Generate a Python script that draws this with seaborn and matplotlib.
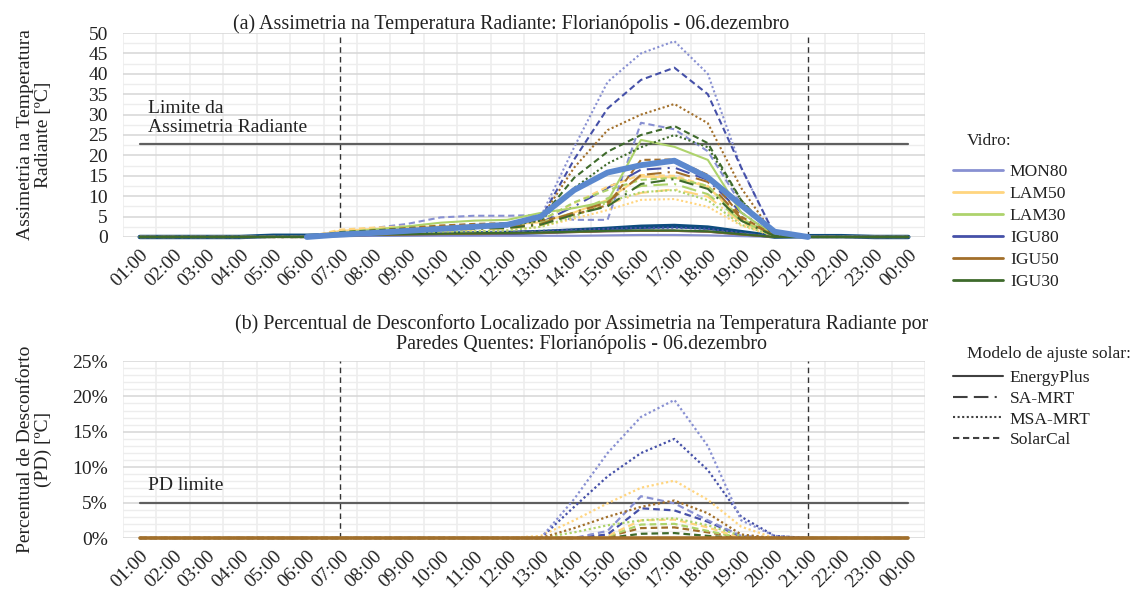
import matplotlib.pyplot as plt
import numpy as np
import seaborn as sns
from matplotlib.lines import Line2D
from matplotlib.ticker import FixedLocator, MultipleLocator, PercentFormatter

# ──────────────────────────────────────────────
# Dados
# ──────────────────────────────────────────────
HORAS = ["01:00", "02:00", "03:00", "04:00", "05:00", "06:00", "07:00", "08:00",
         "09:00", "10:00", "11:00", "12:00", "13:00", "14:00", "15:00", "16:00",
         "17:00", "18:00", "19:00", "20:00", "21:00", "22:00", "23:00", "00:00"]

# (a) Assimetria na temperatura radiante [ºC]
MON80_EP = [0, 0, 0, 0, 0, 0, 0.2, 0.3, 0.3, 0.3, 0.3, 0.3, 0.3, 0.3, 0.4, 0.5, 0.5, 0.4, 0.2, 0, 0, 0, 0, 0]
MON80_SA = [0, 0, 0, 0, 0, 0, 0.5, 0.8, 1.0, 1.0, 1.1, 1.1, 1.2, 1.3, 1.5, 1.6, 1.6, 1.4, 0.8, 0, 0, 0, 0, 0]
MON80_MSA = [0, 0, 0, 0, 0, 0, 0.8, 1.2, 1.6, 2.0, 2.4, 2.8, 5.0, 22, 38, 45, 48, 40, 17, 0.5, 0, 0, 0, 0]
MON80_SC = [0, 0, 0, 0, 0, 0, 1.5, 2.2, 3.2, 4.8, 5.2, 5.2, 5.4, 4.2, 4.2, 28, 26.4, 21, 8, 0.3, 0, 0, 0, 0]

IGU80_EP = [0, 0, 0, 0, 0, 0, 0.3, 0.5, 0.6, 0.7, 0.7, 0.8, 1.0, 1.2, 1.4, 1.5, 1.5, 1.3, 0.6, 0, 0, 0, 0, 0]
IGU80_SA = [0, 0, 0, 0, 0, 0, 0.8, 1.2, 1.6, 2.0, 2.3, 2.5, 3.5, 7.5, 12, 16.5, 17, 14, 6, 0.3, 0, 0, 0, 0]
IGU80_MSA = [0, 0, 0, 0, 0, 0, 0.6, 0.9, 1.0, 1.1, 1.2, 1.3, 1.5, 1.8, 2.0, 2.2, 2.3, 2.0, 1.0, 0, 0, 0, 0, 0]
IGU80_SC = [0, 0, 0, 0, 0, 0, 1.0, 1.5, 2.0, 2.5, 2.8, 3.2, 4.5, 19, 31.5, 38.5, 41.5, 35, 17, 0.5, 0, 0, 0, 0]

LAM50_EP = [0, 0, 0, 0, 0, 0, 1.5, 2.0, 2.3, 2.6, 2.8, 3.0, 3.6, 6.0, 9.1, 14.8, 14.6, 12.3, 4.5, 0.3, 0, 0, 0, 0]
LAM50_SA = [0, 0, 0, 0, 0, 0, 0.8, 1.0, 1.3, 1.5, 1.8, 2.0, 2.8, 5.5, 8.0, 10.8, 11.7, 9.9, 3.5, 0.2, 0, 0, 0, 0]
LAM50_MSA = [0, 0, 0, 0, 0, 0, 0.5, 0.8, 1.0, 1.2, 1.4, 1.6, 2.5, 4.5, 6.6, 9.1, 9.3, 7.4, 2.8, 0.2, 0, 0, 0, 0]
LAM50_SC = [0, 0, 0, 0, 0, 0, 1.8, 2.3, 2.6, 2.8, 3.0, 3.2, 4.0, 8.3, 12.3, 15.2, 15.0, 12.5, 4.0, 0.3, 0, 0, 0, 0]

LAM30_EP = [0, 0, 0, 0, 0, 0, 1.0, 1.8, 2.6, 3.5, 4.0, 4.2, 5.9, 7.1, 8.7, 23.8, 22.1, 18.9, 6.0, 0.3, 0, 0, 0, 0]
LAM30_SA = [0, 0, 0, 0, 0, 0, 0.8, 1.2, 1.6, 2.0, 2.4, 2.6, 3.5, 6.0, 9.5, 12.5, 13.0, 10.5, 4.0, 0.2, 0, 0, 0, 0]
LAM30_MSA = [0, 0, 0, 0, 0, 0, 0.5, 0.8, 1.0, 1.2, 1.4, 1.6, 2.5, 5.0, 8.5, 11.0, 11.5, 9.0, 3.0, 0.2, 0, 0, 0, 0]
LAM30_SC = [0, 0, 0, 0, 0, 0, 1.2, 1.8, 2.2, 2.6, 2.9, 3.1, 4.0, 8.5, 11.5, 14.0, 14.5, 12.5, 4.5, 0.3, 0, 0, 0, 0]

IGU50_EP = [0, 0, 0, 0, 0, 0, 0.3, 0.5, 0.6, 0.7, 0.8, 0.9, 1.0, 1.2, 1.4, 1.5, 1.5, 1.3, 0.6, 0, 0, 0, 0, 0]
IGU50_SA = [0, 0, 0, 0, 0, 0, 0.8, 1.2, 1.6, 2.0, 2.2, 2.4, 3.2, 6.0, 8.5, 15.2, 16.0, 13.5, 4.5, 0.3, 0, 0, 0, 0]
IGU50_MSA = [0, 0, 0, 0, 0, 0, 0.6, 1.0, 1.4, 1.8, 2.2, 2.6, 4.5, 17, 26.2, 30, 32.6, 27.9, 12, 0.3, 0, 0, 0, 0]
IGU50_SC = [0, 0, 0, 0, 0, 0, 1.0, 1.6, 2.2, 2.8, 3.2, 3.4, 4.0, 5.5, 7.8, 18.9, 19.0, 15.2, 5.0, 0.3, 0, 0, 0, 0]

IGU30_EP = [0, 0, 0, 0, 0, 0, 0.4, 0.6, 0.7, 0.8, 0.9, 1.0, 1.1, 1.3, 1.5, 1.6, 1.6, 1.4, 0.7, 0, 0, 0, 0, 0]
IGU30_SA = [0, 0, 0, 0, 0, 0, 0.8, 1.2, 1.5, 1.8, 2.0, 2.2, 3.0, 5.5, 7.5, 13.0, 14.2, 11.8, 4.0, 0.2, 0, 0, 0, 0]
IGU30_MSA = [0, 0, 0, 0, 0, 0, 0.8, 1.2, 1.6, 2.0, 2.4, 2.8, 4.0, 12, 18, 22, 25, 22, 9, 0.3, 0, 0, 0, 0]
IGU30_SC = [0, 0, 0, 0, 0, 0, 1.2, 1.6, 2.0, 2.4, 2.7, 3.0, 4.5, 14.5, 20.9, 25, 27.2, 23, 9, 0.3, 0, 0, 0, 0]

# Linhas espessas (sem entrada na legenda); None = sem valor
DESTAQUE_AZUL = [None, None, None, None, None, 0, 0.6, 1.0, 1.5, 2.0, 2.5, 3.0, 5.0, 11.5, 15.8,
                 17.6, 18.7, 14.6, 7.8, 1.3, 0, None, None, None]
DESTAQUE_MARINHO = [0, 0, 0, 0, 0.3, 0.3, 0.5, 0.6, 0.7, 0.8, 0.9, 1.0, 1.2, 1.6, 2.0, 2.5, 2.7,
                    2.3, 1.2, 0.1, 0.2, 0.2, 0, 0]

LIMITE_ASSIMETRIA = 22.7

# (b) Percentual de desconforto [%]
PD_MON80_MSA = [0, 0, 0, 0, 0, 0, 0, 0, 0, 0, 0, 0, 0, 5.5, 12, 17.1, 19.5, 13, 2.5, 0.3, 0, 0, 0, 0]
PD_IGU80_MSA = [0, 0, 0, 0, 0, 0, 0, 0, 0, 0, 0, 0, 0, 4.4, 8.7, 12, 14, 9.6, 3, 0.3, 0, 0, 0, 0]
PD_LAM50_MSA = [0, 0, 0, 0, 0, 0, 0, 0, 0, 0, 0, 0, 0.3, 2.5, 4.9, 7.1, 8.1, 5.4, 1.6, 0, 0, 0, 0, 0]
PD_IGU50_MSA = [0, 0, 0, 0, 0, 0, 0, 0, 0, 0, 0, 0, 0, 1.4, 3.0, 4.4, 5.3, 3.5, 0.5, 0, 0, 0, 0, 0]
PD_LAM30_MSA = [0, 0, 0, 0, 0, 0, 0, 0, 0, 0, 0, 0, 0, 0.8, 1.8, 2.5, 2.8, 1.8, 0.3, 0, 0, 0, 0, 0]
PD_MON80_SC = [0, 0, 0, 0, 0, 0, 0, 0, 0, 0, 0, 0, 0, 0, 1.0, 5.9, 4.9, 2.5, 0.3, 0, 0, 0, 0, 0]
PD_IGU80_SC = [0, 0, 0, 0, 0, 0, 0, 0, 0, 0, 0, 0, 0, 0, 0.5, 4.2, 3.9, 2.3, 0.2, 0, 0, 0, 0, 0]
PD_LAM50_SC = [0, 0, 0, 0, 0, 0, 0, 0, 0, 0, 0, 0, 0, 0, 0.3, 2.5, 2.6, 1.5, 0, 0, 0, 0, 0, 0]
PD_LAM30_SC = [0, 0, 0, 0, 0, 0, 0, 0, 0, 0, 0, 0, 0, 0, 0.2, 1.9, 2.0, 1.0, 0, 0, 0, 0, 0, 0]
PD_IGU50_SC = [0, 0, 0, 0, 0, 0, 0, 0, 0, 0, 0, 0, 0, 0, 0.2, 1.4, 1.5, 0.8, 0, 0, 0, 0, 0, 0]
PD_IGU30_SC = [0, 0, 0, 0, 0, 0, 0, 0, 0, 0, 0, 0, 0, 0, 0, 0.6, 0.7, 0.3, 0, 0, 0, 0, 0, 0]
PD_IGU50_EP = [0, 0, 0, 0, 0, 0, 0, 0, 0, 0, 0, 0, 0, 0, 0, 0, 0, 0, 0, 0, 0, 0, 0, 0]

PD_LIMITE = 5

# ──────────────────────────────────────────────
# Estilos
# ──────────────────────────────────────────────
VIDROS = ["MON80", "LAM50", "LAM30", "IGU80", "IGU50", "IGU30"]
MODELOS = ["EnergyPlus", "SA-MRT", "MSA-MRT", "SolarCal"]

CORES = {
    "MON80": "#8890D2",
    "LAM50": "#FFD57F",
    "LAM30": "#AED36C",
    "IGU80": "#4550A8",
    "IGU50": "#A26F2A",
    "IGU30": "#3E6A2B",
}
ESTILOS = {
    "EnergyPlus": "-",
    "SA-MRT": (0, (7, 3, 7, 3, 1, 3)),
    "MSA-MRT": (0, (1, 1.2)),
    "SolarCal": (0, (3, 1.8)),
}

SERIES_A = [
    ("MON80", "EnergyPlus", MON80_EP), ("MON80", "SA-MRT", MON80_SA),
    ("MON80", "MSA-MRT", MON80_MSA), ("MON80", "SolarCal", MON80_SC),
    ("IGU80", "EnergyPlus", IGU80_EP), ("IGU80", "SA-MRT", IGU80_SA),
    ("IGU80", "MSA-MRT", IGU80_MSA), ("IGU80", "SolarCal", IGU80_SC),
    ("LAM50", "EnergyPlus", LAM50_EP), ("LAM50", "SA-MRT", LAM50_SA),
    ("LAM50", "MSA-MRT", LAM50_MSA), ("LAM50", "SolarCal", LAM50_SC),
    ("LAM30", "EnergyPlus", LAM30_EP), ("LAM30", "SA-MRT", LAM30_SA),
    ("LAM30", "MSA-MRT", LAM30_MSA), ("LAM30", "SolarCal", LAM30_SC),
    ("IGU50", "EnergyPlus", IGU50_EP), ("IGU50", "SA-MRT", IGU50_SA),
    ("IGU50", "MSA-MRT", IGU50_MSA), ("IGU50", "SolarCal", IGU50_SC),
    ("IGU30", "EnergyPlus", IGU30_EP), ("IGU30", "SA-MRT", IGU30_SA),
    ("IGU30", "MSA-MRT", IGU30_MSA), ("IGU30", "SolarCal", IGU30_SC),
]
SERIES_B = [
    ("IGU30", "SolarCal", PD_IGU30_SC), ("IGU50", "SolarCal", PD_IGU50_SC),
    ("LAM30", "SolarCal", PD_LAM30_SC), ("LAM50", "SolarCal", PD_LAM50_SC),
    ("IGU80", "SolarCal", PD_IGU80_SC), ("MON80", "SolarCal", PD_MON80_SC),
    ("LAM30", "MSA-MRT", PD_LAM30_MSA), ("IGU50", "MSA-MRT", PD_IGU50_MSA),
    ("LAM50", "MSA-MRT", PD_LAM50_MSA), ("IGU80", "MSA-MRT", PD_IGU80_MSA),
    ("MON80", "MSA-MRT", PD_MON80_MSA),
]

COR_TEXTO = "#222222"
COR_LIMITE = "#5F5F5F"
FONTE = 12.6

sns.set_theme(style="white")
plt.rcParams["font.family"] = ["Liberation Serif", "DejaVu Serif"]
plt.rcParams["text.color"] = COR_TEXTO
plt.rcParams["xtick.color"] = COR_TEXTO
plt.rcParams["ytick.color"] = COR_TEXTO
plt.rcParams["axes.labelcolor"] = COR_TEXTO


def _linha(ax, valores, cor, estilo, lw=1.5, z=3):
    """Desenha uma série horária com seaborn."""
    y = np.array([np.nan if v is None else v for v in valores], dtype=float)
    sns.lineplot(x=np.arange(len(HORAS)), y=y, ax=ax, color=cor,
                 linestyle=estilo, linewidth=lw, legend=False,
                 clip_on=False, zorder=z)


def _formatar(ax, ymax, passo, passo_menor):
    ax.set_xlim(-0.5, len(HORAS) - 0.5)
    ax.set_ylim(0, ymax)
    ax.set_xticks(range(len(HORAS)))
    ax.set_xticklabels(HORAS, rotation=45, ha="right", va="top",
                       rotation_mode="anchor", fontsize=14)
    ax.xaxis.set_minor_locator(FixedLocator(np.arange(-0.5, len(HORAS), 1)))
    ax.yaxis.set_major_locator(MultipleLocator(passo))
    ax.yaxis.set_minor_locator(MultipleLocator(passo_menor))
    ax.grid(which="major", axis="x", visible=False)
    ax.grid(which="minor", axis="x", color="#EDEDED", lw=1.2)
    ax.grid(which="major", axis="y", color="#D9D9D9", lw=1.2)
    ax.grid(which="minor", axis="y", color="#EDEDED", lw=1.0)
    ax.tick_params(which="both", length=0)
    ax.tick_params(axis="y", labelsize=14, pad=11)
    ax.tick_params(axis="x", pad=7)
    ax.set_axisbelow(True)
    sns.despine(ax=ax, left=True, bottom=True)
    # Linhas verticais das 07:00 e 21:00
    for h in ("07:00", "21:00"):
        ax.axvline(HORAS.index(h), color="#333333", lw=1, ls=(0, (4, 3)), zorder=2)


fig = plt.figure(figsize=(11.34, 5.98), dpi=100)
ax_a = fig.add_axes([0.1085, 0.6037, 0.7072, 0.3411])
ax_b = fig.add_axes([0.1085, 0.1003, 0.7072, 0.2960])

# ──────────────────────────────────────────────
# (a) Assimetria
# ──────────────────────────────────────────────
_formatar(ax_a, 50, 5, 2.5)
_linha(ax_a, [LIMITE_ASSIMETRIA] * len(HORAS), COR_LIMITE, "-", lw=1.6, z=2)
_linha(ax_a, DESTAQUE_MARINHO, "#0E4C7E", "-", lw=3.2, z=2.5)
for vidro, modelo, valores in SERIES_A:
    _linha(ax_a, valores, CORES[vidro], ESTILOS[modelo])
_linha(ax_a, DESTAQUE_AZUL, "#5B88CE", "-", lw=4.2, z=4)

ax_a.text(0.25, 24.8, "Limite da\nAssimetria Radiante", fontsize=14,
          ha="left", va="bottom", linespacing=1.15)
ax_a.set_title("(a) Assimetria na Temperatura Radiante: Florianópolis - 06.dezembro",
               fontsize=14.4, pad=3, x=0.484)
ax_a.set_ylabel("Assimetria na Temperatura\nRadiante [ºC]", fontsize=14,
                linespacing=1.1)
ax_a.yaxis.set_label_coords(-0.088, 0.5)
ax_a.set_xlabel("")

# ──────────────────────────────────────────────
# (b) Percentual de desconforto
# ──────────────────────────────────────────────
_formatar(ax_b, 25, 5, 1)
ax_b.yaxis.set_major_formatter(PercentFormatter(xmax=100, decimals=0))
_linha(ax_b, [PD_LIMITE] * len(HORAS), COR_LIMITE, "-", lw=1.6, z=2)
for vidro, modelo, valores in SERIES_B:
    _linha(ax_b, valores, CORES[vidro], ESTILOS[modelo], lw=1.6)
_linha(ax_b, PD_IGU50_EP, CORES["IGU50"], "-", lw=2.6, z=4)

ax_b.text(0.25, 6.2, "PD limite", fontsize=14, ha="left", va="bottom")
ax_b.set_title("(b) Percentual de Desconforto Localizado por Assimetria na Temperatura Radiante por\n"
               "Paredes Quentes: Florianópolis - 06.dezembro",
               fontsize=14.4, pad=9, x=0.572, linespacing=1.05)
ax_b.set_ylabel("Percentual de Desconforto\n(PD) [ºC]", fontsize=14, linespacing=1.1)
ax_b.yaxis.set_label_coords(-0.088, 0.5)
ax_b.set_xlabel("")

# ──────────────────────────────────────────────
# Legendas
# ──────────────────────────────────────────────
alcas_vidro = [Line2D([], [], color=CORES[v], lw=2) for v in VIDROS]
fig.text(967 / 1134, 1 - 145 / 598, "Vidro:", fontsize=FONTE, va="baseline")
fig.legend(alcas_vidro, VIDROS, loc="upper left",
           bbox_to_anchor=(953 / 1134, 1 - 164 / 598), frameon=False,
           fontsize=FONTE, handlelength=2.85, handletextpad=0.4,
           labelspacing=0.33, borderpad=0, borderaxespad=0)

alcas_modelo = [Line2D([], [], color="#404040", lw=1.5, ls=ESTILOS[m]) for m in MODELOS]
fig.text(967 / 1134, 1 - 358 / 598, "Modelo de ajuste solar:", fontsize=FONTE,
         va="baseline")
fig.legend(alcas_modelo, MODELOS, loc="upper left",
           bbox_to_anchor=(953 / 1134, 1 - 370 / 598), frameon=False,
           fontsize=FONTE, handlelength=2.85, handletextpad=0.4,
           labelspacing=0.25, borderpad=0, borderaxespad=0)

fig.savefig("out.png", dpi=100, facecolor="white")
